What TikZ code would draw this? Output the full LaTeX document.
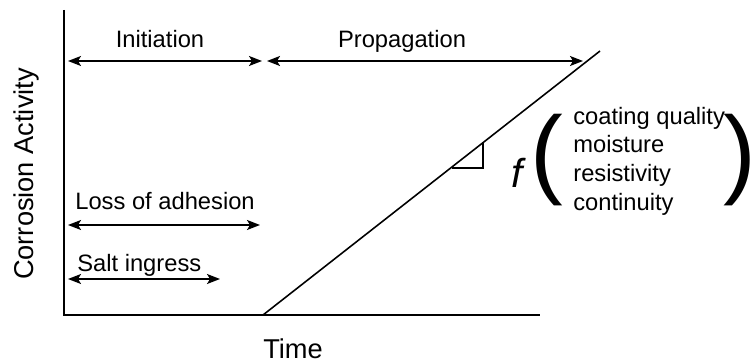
\documentclass[tikz,border=0pt]{standalone}
\usepackage{fontspec}
\setmainfont{Liberation Sans}
\usetikzlibrary{arrows.meta, positioning}
\tikzstyle{axis}=[line width=1.1pt]
\tikzstyle{span}=[{Stealth[length=2.6mm,width=2mm,inset=0.6mm]}-{Stealth[length=2.6mm,width=2mm,inset=0.6mm]}, line width=0.9pt]
\tikzstyle{every node}=[font=\fontsize{13.5}{16.3}\selectfont, inner sep=0pt]
\tikzstyle{big}=[font=\fontsize{15.5}{18}\selectfont]
\tikzstyle{paren}=[anchor=base west, font=\fontsize{56}{56}\selectfont]

\begin{document}
\begin{tikzpicture}[x=0.02cm,y=-0.02cm]
    \useasboundingbox (0,0) rectangle (750,364);
    % axes
    \coordinate (O) at (64,315);
    \coordinate (ytop) at (64,10);
    \coordinate (xend) at (540,315);
    \draw[axis] (ytop) -- (O) -- (xend);
    \node[big, anchor=base] (time) at (293,358) {Time};
    \node[big, anchor=base, rotate=90] (act) at (33,174) {Corrosion Activity};
    % stages
    \coordinate (i1) at (68,61);
    \coordinate (i2) at (262,61);
    \coordinate (p1) at (267,61);
    \coordinate (p2) at (583,61);
    \node[anchor=base] (init) at (160,48) {Initiation};
    \node[anchor=base] (prop) at (402,48) {Propagation};
    \draw[span] (i1) -- (i2);
    \draw[span] (p1) -- (p2);
    \coordinate (l1) at (68,225);
    \coordinate (l2) at (260,225);
    \coordinate (s1) at (68,279);
    \coordinate (s2) at (220,279);
    \node[anchor=base west] (loss) at (75,210) {Loss of adhesion};
    \node[anchor=base west] (salt) at (77,272) {Salt ingress};
    \draw[span] (l1) -- (l2);
    \draw[span] (s1) -- (s2);
    % growth line and slope
    \coordinate (g0) at (263,315);
    \coordinate (g1) at (600,51);
    \draw[line width=0.9pt] (g0) -- (g1);
    \draw[line width=0.9pt] (452,168) -- (483,168) -- (483,143);
    \node[anchor=base, font=\fontsize{23}{23}\selectfont\itshape] (fun) at (517,188) {f};
    \node[paren] (lpar) at (530,186) {(};
    \node[anchor=west, align=left] (factors) at (573,161) {coating quality\\moisture\\resistivity\\continuity};
    \node[paren] (rpar) at (723,186) {)};
\end{tikzpicture}
\end{document}
